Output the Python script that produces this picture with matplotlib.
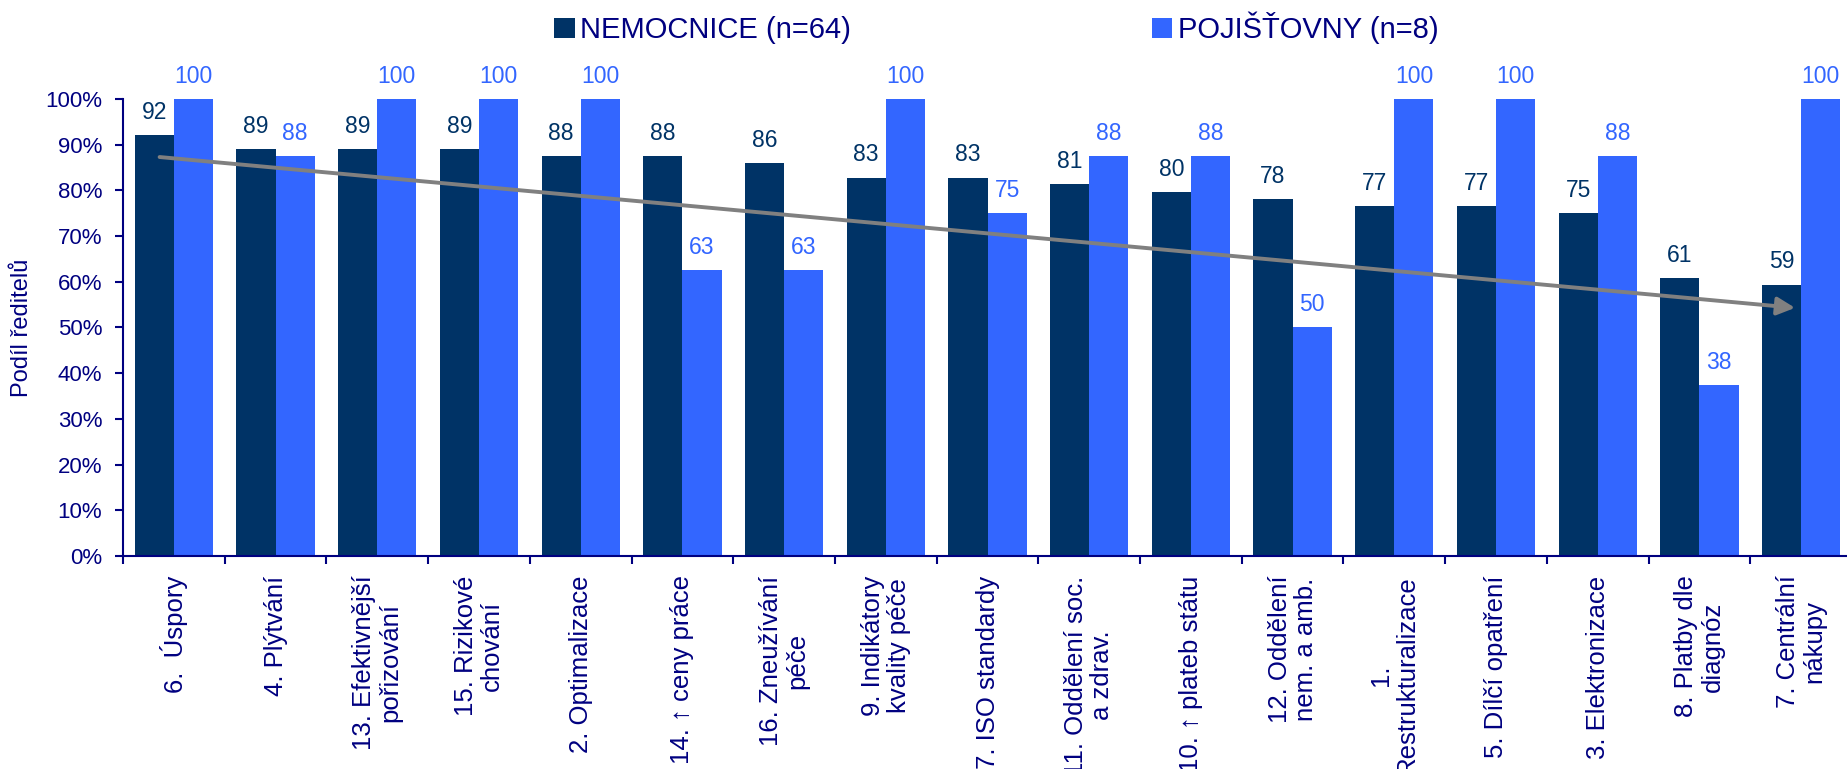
import numpy as np
import matplotlib
matplotlib.use('Agg')
import matplotlib.pyplot as plt

plt.rcParams['font.family'] = ['Liberation Sans', 'DejaVu Sans']

# data
categories = ['6.  Úspory', '4. Plýtvání', '13. Efektivnější\npořizování', '15. Rizikové\nchování',
              '2. Optimalizace', '14. ↑ ceny práce', '16. Zneužívání\npéče', '9. Indikátory\nkvality péče',
              '7. ISO standardy', '11. Oddělení soc.\na zdrav.', '10. ↑ plateb státu', '12. Oddělení\nnem. a amb.',
              '1.\nRestrukturalizace', '5. Dílčí opatření', '3. Elektronizace', '8. Platby dle\ndiagnóz',
              '7. Centrální\nnákupy']
nemocnice = [92.2, 89.1, 89.1, 89.1, 87.5, 87.5, 85.9, 82.8, 82.8, 81.3, 79.7, 78.1, 76.6, 76.6, 75.0, 60.9, 59.4]
pojistovny = [100, 87.5, 100, 100, 100, 62.5, 62.5, 100, 75, 87.5, 87.5, 50, 100, 100, 87.5, 37.5, 100]
nem_labels = ['92', '89', '89', '89', '88', '88', '86', '83', '83', '81', '80', '78', '77', '77', '75', '61', '59']
poj_labels = ['100', '88', '100', '100', '100', '63', '63', '100', '75', '88', '88', '50', '100', '100', '88', '38', '100']
trend_x = [-0.14, 15.94]
trend_y = [87.3, 54.3]

navy = '#000080'
dark = '#003366'
blue = '#3366FF'

fig = plt.figure(figsize=(18.47, 7.69), dpi=100)
ax = fig.add_axes([123 / 1847, 213 / 769, 1729 / 1847, 457 / 769])

x = np.arange(len(categories))
w = 0.385
b1 = ax.bar(x - w / 2, nemocnice, w, color=dark, label='NEMOCNICE (n=64)')
b2 = ax.bar(x + w / 2, pojistovny, w, color=blue, label='POJIŠŤOVNY (n=8)')

# popisky hodnot
for rect, t in zip(b1, nem_labels):
    ax.annotate(t, (rect.get_x() + rect.get_width() / 2, rect.get_height()),
                xytext=(0, 8), textcoords='offset points', ha='center', va='bottom',
                fontsize=16.5, color=dark, annotation_clip=False)
for rect, t in zip(b2, poj_labels):
    ax.annotate(t, (rect.get_x() + rect.get_width() / 2, rect.get_height()),
                xytext=(0, 8), textcoords='offset points', ha='center', va='bottom',
                fontsize=16.5, color=blue, annotation_clip=False)

# trend
ax.annotate('', xy=(trend_x[1], trend_y[1]), xytext=(trend_x[0], trend_y[0]),
            arrowprops=dict(arrowstyle='-|>', color='#808080', lw=2.8,
                            mutation_scale=27, shrinkA=0, shrinkB=0))

ax.set_xlim(-0.5, len(categories) - 0.5)
ax.set_ylim(0, 100)
ax.set_yticks(np.arange(0, 101, 10))
ax.set_yticklabels([f'{v}%' for v in range(0, 101, 10)])
ax.set_ylabel('Podíl ředitelů', fontsize=17, color=navy, labelpad=9)

ax.set_xticks(x)
ax.set_xticklabels(categories, rotation=90, fontsize=18.5, color=navy,
                   multialignment='center', linespacing=1.1)
ax.set_xticks(np.arange(-0.5, len(categories), 1), minor=True)
ax.tick_params(axis='x', which='major', length=0, pad=14)
ax.tick_params(axis='x', which='minor', length=6, width=1.5, color=navy, direction='out')
ax.tick_params(axis='y', length=6, width=1.5, color=navy, labelcolor=navy, labelsize=16, pad=9)

for s in ['top', 'right']:
    ax.spines[s].set_visible(False)
for s in ['left', 'bottom']:
    ax.spines[s].set_color(navy)
    ax.spines[s].set_linewidth(1.5)

leg = ax.legend(loc='center', bbox_to_anchor=(0.5395, 0.964), bbox_transform=fig.transFigure,
                ncol=2, frameon=False, fontsize=21, labelcolor=navy, columnspacing=10.3,
                handlelength=0.7, handleheight=0.7, handletextpad=0.2)

plt.savefig('out.png', dpi=100)
